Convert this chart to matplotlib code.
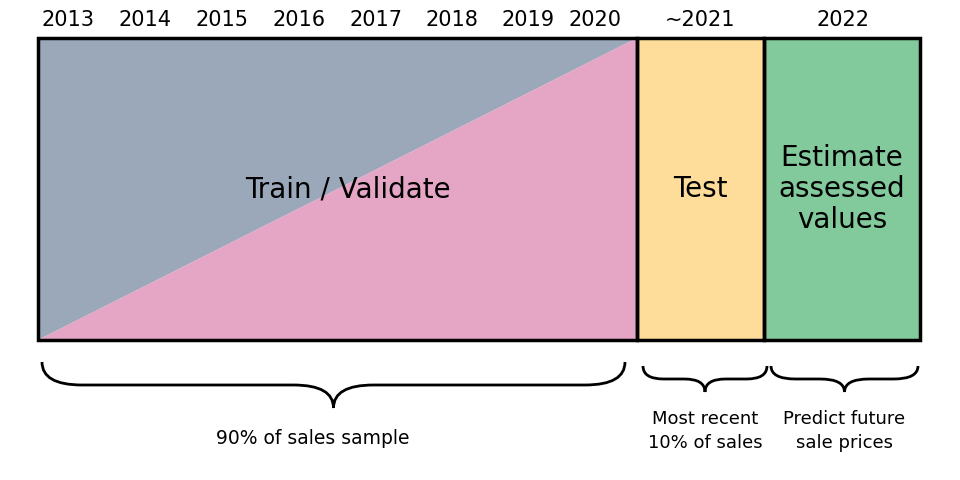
import matplotlib.pyplot as plt
from matplotlib.patches import Rectangle, Polygon, PathPatch
from matplotlib.path import Path

years = ['2013', '2014', '2015', '2016', '2017', '2018', '2019', '2020']
year_x = [68, 145, 222, 299, 376, 452, 528, 595]
boxes = [('Train / Validate', 38, 637), ('Test', 637, 764), ('Estimate\nassessed\nvalues', 764, 920)]
top_labels = [('~2021', 700), ('2022', 843)]
notes = [('90% of sales sample', 42, 625, 362, 46), ('Most recent\n10% of sales', 643, 767, 366, 26),
         ('Predict future\nsale prices', 771, 918, 366, 26)]

fig = plt.figure(figsize=(9.6, 4.8), dpi=100)
ax = fig.add_axes([0, 0, 1, 1])
ax.set_xlim(0, 960)
ax.set_ylim(480, 0)
ax.axis('off')

y0, y1 = 38, 340
# train/validate box split diagonally
ax.add_patch(Polygon([(38, y0), (637, y0), (38, y1)], closed=True, color='#9aa8ba', lw=0))
ax.add_patch(Polygon([(637, y0), (637, y1), (38, y1)], closed=True, color='#e5a5c5', lw=0))
ax.add_patch(Rectangle((637, y0), 127, y1 - y0, color='#fedc9a', lw=0))
ax.add_patch(Rectangle((764, y0), 156, y1 - y0, color='#82c99c', lw=0))
for name, a, b in boxes:
    ax.add_patch(Rectangle((a, y0), b - a, y1 - y0, fill=False, ec='black', lw=2.5))
    xc = 348 if a == 38 else (a + b) / 2
    ax.text(xc, 189, name, ha='center', va='center', fontsize=20, linespacing=1.15)

for y, x in zip(years, year_x):
    ax.text(x, 20, y, ha='center', va='center', fontsize=15)
for t, x in top_labels:
    ax.text(x, 20, t, ha='center', va='center', fontsize=15)


def brace(xa, xb, yt, h):
    xm = (xa + xb) / 2
    r = min(40, (xb - xa) / 6)
    yh = yt + h / 2
    verts = [(xa, yt), (xa, yh), (xa + r, yh), (xm - r, yh), (xm, yh), (xm, yt + h),
             (xm, yh), (xm + r, yh), (xb - r, yh), (xb, yh), (xb, yt)]
    codes = [Path.MOVETO, Path.CURVE3, Path.CURVE3, Path.LINETO, Path.CURVE3, Path.CURVE3,
             Path.CURVE3, Path.CURVE3, Path.LINETO, Path.CURVE3, Path.CURVE3]
    ax.add_patch(PathPatch(Path(verts, codes), fill=False, lw=2, ec='black'))


for t, a, b, yt, h in notes:
    brace(a, b, yt, h)
    if '\n' in t:
        ax.text((a + b) / 2, 431, t, ha='center', va='center', fontsize=13, linespacing=1.45)
    else:
        ax.text(313, 438, t, ha='center', va='center', fontsize=13.5)

fig.savefig('out.png', dpi=100)
